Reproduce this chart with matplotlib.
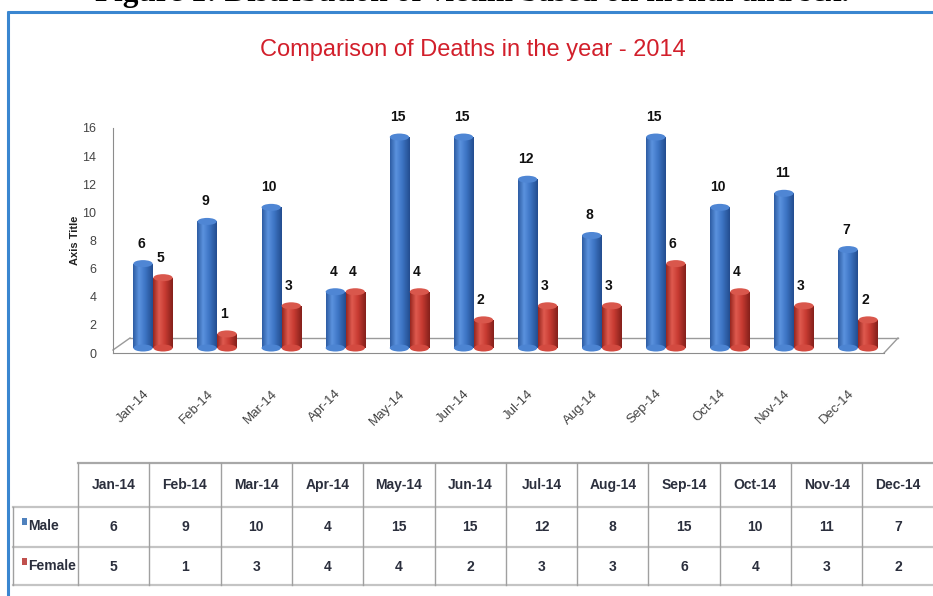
import numpy as np
import matplotlib
matplotlib.use("Agg")
import matplotlib.pyplot as plt
from matplotlib.patches import Rectangle, Ellipse
from matplotlib.lines import Line2D
from matplotlib.colors import LinearSegmentedColormap
from matplotlib.transforms import ScaledTranslation

months = ["Jan-14", "Feb-14", "Mar-14", "Apr-14", "May-14", "Jun-14",
          "Jul-14", "Aug-14", "Sep-14", "Oct-14", "Nov-14", "Dec-14"]
male = [6, 9, 10, 4, 15, 15, 12, 8, 15, 10, 11, 7]
female = [5, 1, 3, 4, 4, 2, 3, 3, 6, 4, 3, 2]
yticks = [0, 2, 4, 6, 8, 10, 12, 14, 16]

SANS = ["Liberation Sans", "DejaVu Sans"]
W, H = 933, 596

fig = plt.figure(figsize=(W / 100, H / 100), dpi=100)
fig.patch.set_facecolor("white")

# full-figure pixel canvas for frame, captions and data table
bg = fig.add_axes([0, 0, 1, 1])
bg.set_xlim(0, W)
bg.set_ylim(H, 0)
bg.axis("off")

bg.text(472, 1.5, "Figure 1: Distribution of victim based on month and sex.",
        family=["Liberation Serif", "DejaVu Serif"], weight="bold",
        fontsize=22.5, ha="center", va="baseline", color="black")
bg.plot([7, W], [11.5, 11.5], color="#3a86d0", lw=2.2, solid_capstyle="butt")
bg.plot([8, 8], [11, H], color="#3a86d0", lw=2.2, solid_capstyle="butt")

bg.text(473, 50, "Comparison of Deaths in the year - 2014", family=SANS,
        fontsize=17, color="#d21f2b", ha="center", va="center")

bg.text(75, 240, "Axis Title", family=SANS, weight="bold", fontsize=8,
        rotation=90, ha="center", va="center", color="#222222")

# chart area
L, R, B, T = 113, 884, 353, 128
ax = fig.add_axes([L / W, 1 - B / H, (R - L) / W, (B - T) / H])
ax.set_facecolor("none")
px = 64.1
for s in ["top", "right"]:
    ax.spines[s].set_visible(False)
ax.spines["left"].set_color("#8c8c8c")
ax.spines["bottom"].set_color("#8c8c8c")
ax.set_yticks(yticks)
ax.set_yticklabels([str(t) for t in yticks], family=SANS, fontsize=9,
                   color="#444444")
ax.tick_params(axis="y", length=0, pad=12)
ax.set_xticks(range(len(months)))
ax.set_xticklabels(months, rotation=45, ha="right", va="center",
                   rotation_mode="anchor", family=SANS, fontsize=9.5,
                   color="#444444")
ax.tick_params(axis="x", length=0, pad=28)
for lbl in ax.get_xticklabels():
    lbl.set_transform(lbl.get_transform() +
                      ScaledTranslation(-0.06, 0, fig.dpi_scale_trans))

# back edge and sides of the 3D floor
floor = [([L, 130], [350, 338]), ([130, 898], [338, 338]),
         ([898, R], [338, 353])]
for xs, ys in floor:
    ax.add_line(Line2D(xs, ys, transform=bg.transData, color="#9a9a9a",
                       lw=1, zorder=1, clip_on=False))

blue_cm = LinearSegmentedColormap.from_list(
    "blue", [(0, "#2d5ca3"), (0.3, "#5b92de"), (0.6, "#3e76c6"),
             (1, "#234d8f")])
red_cm = LinearSegmentedColormap.from_list(
    "red", [(0, "#97261f"), (0.3, "#df5a4f"), (0.6, "#c83b32"),
            (1, "#84201b")])

lift = ScaledTranslation(0, 0.05, fig.dpi_scale_trans)
tr = ax.transData + lift
bw = 0.30
cap = 0.5
grad = np.linspace(0, 1, 64).reshape(1, -1)


def cylinder(xc, val, cmap, top_color, zo):
    x0 = xc - bw / 2
    im = ax.imshow(grad, cmap=cmap, extent=(x0, x0 + bw, 0, val),
                   aspect="auto", zorder=zo, transform=tr,
                   interpolation="bilinear")
    clip = Rectangle((x0, 0), bw, val, transform=tr)
    im.set_clip_path(clip)
    ax.add_patch(Ellipse((xc, 0), bw, cap, transform=tr,
                         facecolor=cmap(0.45), edgecolor="none",
                         zorder=zo))
    ax.add_patch(Ellipse((xc, val), bw, cap, transform=tr,
                         facecolor=top_color, edgecolor="none",
                         zorder=zo + 0.1))


for i in range(len(months)):
    cylinder(i - 0.156, male[i], blue_cm, "#4f86d4", 3)
    cylinder(i + 0.156, female[i], red_cm, "#d9574c", 4)
    ax.annotate(str(male[i]), (i - 0.156, male[i]), xytext=(-2, 18),
                textcoords="offset pixels", ha="center", va="bottom",
                family=SANS, weight="bold", fontsize=10, color="#111111",
                annotation_clip=False)
    ax.annotate(str(female[i]), (i + 0.156, female[i]), xytext=(-3, 18),
                textcoords="offset pixels", ha="center", va="bottom",
                family=SANS, weight="bold", fontsize=10, color="#111111",
                annotation_clip=False)

ax.set_xlim(-40 / px, (R - 153) / px)
ax.set_ylim(0, 16)

# data table under the chart
col_edges = [13] + [78 + 71.3 * k for k in range(13)]
row_edges = [463, 507, 547, 585]
bg.plot([78, W], [row_edges[0]] * 2, color="#a8a8a8", lw=1.6)
for y in row_edges[1:]:
    bg.plot([13, W], [y, y], color="#c4c4c4", lw=1.6)
for k, x in enumerate(col_edges):
    top = row_edges[1] if k == 0 else row_edges[0]
    bg.plot([x, x], [top, row_edges[-1]], color="#a0a0a0", lw=1)

txt = dict(family=SANS, weight="bold", fontsize=10, ha="center",
           va="center", color="#2b2f3d")
for k, m in enumerate(months):
    cx = (col_edges[k + 1] + col_edges[k + 2]) / 2
    bg.text(cx, 485, m, **txt)
    bg.text(cx, 527, str(male[k]), **txt)
    bg.text(cx, 567, str(female[k]), **txt)

for y, name, c in [(522, "Male", "#4f81bd"), (562, "Female", "#c0504d")]:
    bg.add_patch(Rectangle((22, y - 4), 5, 7, facecolor=c, edgecolor="none"))
    bg.text(28, y + 4, name, family=SANS, weight="bold", fontsize=10,
            ha="left", va="center", color="#2b2f3d")

fig.savefig("out.png", dpi=100, facecolor="white")
